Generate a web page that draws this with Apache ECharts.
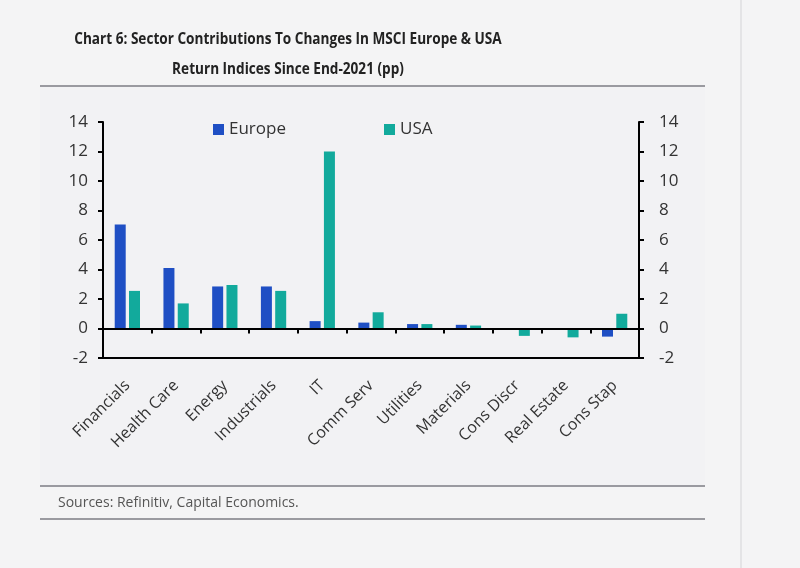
<!DOCTYPE html>
<html><head><meta charset="utf-8">
<script src="https://cdn.jsdelivr.net/npm/echarts@6/dist/echarts.min.js"></script>
<style>html,body{margin:0;padding:0;background:#f4f4f5;}#c{width:800px;height:568px;}</style>
</head><body><div id="c"></div>
<script>
const categories = ['Financials','Health Care','Energy','Industrials','IT','Comm Serv','Utilities','Materials','Cons Discr','Real Estate','Cons Stap'];
const europe = [7.05, 4.1, 2.85, 2.85, 0.5, 0.4, 0.3, 0.25, 0, 0, -0.55];
const usa = [2.55, 1.7, 2.95, 2.55, 12.0, 1.1, 0.3, 0.2, -0.5, -0.6, 1.0];
const yTicks = [-2, 0, 2, 4, 6, 8, 10, 12, 14];
const titleLines = ['Chart 6: Sector Contributions To Changes In MSCI Europe & USA', 'Return Indices Since End-2021 (pp)'];

const chart = echarts.init(document.getElementById('c'));
const axisCommon = {
  type: 'value', min: yTicks[0], max: yTicks[yTicks.length-1], interval: 2,
  axisLine: {show: true, lineStyle: {color: '#000', width: 2}},
  axisTick: {show: true, length: 5, lineStyle: {color: '#000', width: 2}},
  splitLine: {show: false},
  axisLabel: {color: '#333', fontSize: 17, fontFamily: 'Open Sans'}
};
const titleStyle = {fill: '#222', fontSize: 16, fontWeight: 'bold', fontFamily: 'Open Sans', textAlign: 'center', textVerticalAlign: 'middle'};
chart.setOption({
  backgroundColor: '#f4f4f5',
  textStyle: {fontFamily: 'Open Sans'},
  graphic: [
    {type: 'rect', shape: {x: 40, y: 86, width: 665, height: 400}, style: {fill: '#f2f2f4'}, z: -10},
    {type: 'text', x: 288, y: 39, scaleX: 0.85, style: Object.assign({text: titleLines[0]}, titleStyle)},
    {type: 'text', x: 288, y: 69, scaleX: 0.85, style: Object.assign({text: titleLines[1]}, titleStyle)},
    {type: 'line', shape: {x1: 40, y1: 86, x2: 705, y2: 86}, style: {stroke: '#9a9aa0', lineWidth: 2}},
    {type: 'line', shape: {x1: 40, y1: 486, x2: 705, y2: 486}, style: {stroke: '#9a9aa0', lineWidth: 2}},
    {type: 'line', shape: {x1: 40, y1: 519, x2: 705, y2: 519}, style: {stroke: '#9a9aa0', lineWidth: 2}},
    {type: 'line', shape: {x1: 741, y1: 0, x2: 741, y2: 568}, style: {stroke: '#e4e4e6', lineWidth: 2}},
    {type: 'text', x: 58, y: 503, style: {text: 'Sources: Refinitiv, Capital Economics.', fill: '#555', fontSize: 14, fontFamily: 'Open Sans', verticalAlign: 'middle'}}
  ],
  legend: {
    show: true, top: 116, left: 208, itemGap: 98, itemWidth: 11, itemHeight: 11, icon: 'rect',
    textStyle: {fontSize: 17, color: '#333', fontFamily: 'Open Sans'},
    data: ['Europe', 'USA']
  },
  grid: {left: 103, right: 161, top: 122, bottom: 210, containLabel: false},
  xAxis: {
    type: 'category', data: categories,
    axisLine: {show: false},
    axisTick: {show: true, alignWithLabel: false, length: 5, lineStyle: {color: '#000', width: 2}},
    axisLabel: {rotate: 45, color: '#333', fontSize: 16, fontFamily: 'Open Sans', margin: 25, interval: 0}
  },
  yAxis: [
    Object.assign({}, axisCommon, {position: 'left', axisLabel: Object.assign({}, axisCommon.axisLabel, {margin: 15})}),
    Object.assign({}, axisCommon, {position: 'right', axisLabel: Object.assign({}, axisCommon.axisLabel, {margin: 20})})
  ],
  series: [
    {name: 'Europe', type: 'bar', data: europe, barWidth: 11, barGap: '30%', itemStyle: {color: '#1f4fc4'},
     markLine: {silent: true, symbol: 'none', label: {show: false}, lineStyle: {color: '#000', width: 2, type: 'solid'}, data: [{yAxis: 0}]}},
    {name: 'USA', type: 'bar', data: usa, barWidth: 11, barGap: '30%', itemStyle: {color: '#12aa9c'}},
    {name: 'bottom', type: 'line', data: [], markLine: {silent: true, symbol: 'none', label: {show: false}, lineStyle: {color: '#000', width: 2, type: 'solid'}, data: [{yAxis: -2}]}}
  ]
});
</script></body></html>
